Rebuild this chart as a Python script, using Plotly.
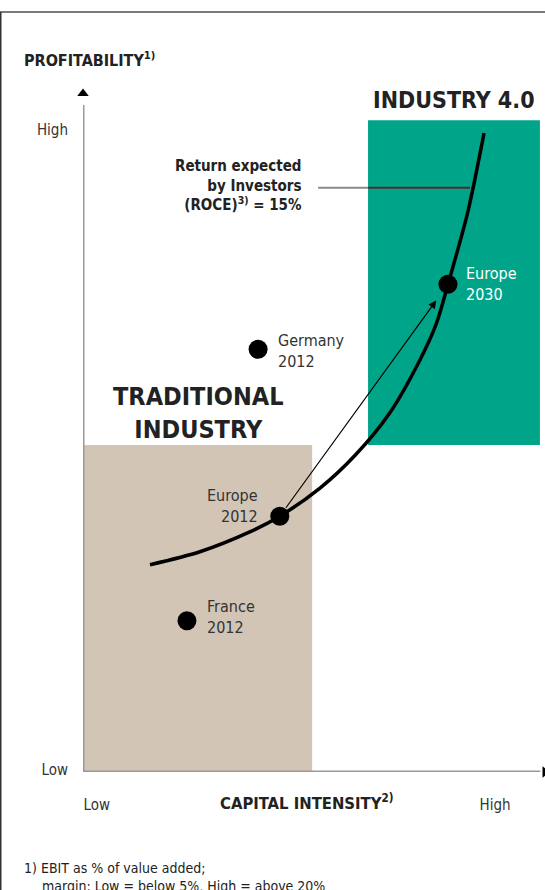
import plotly.graph_objects as go

# ---- data (schematic units 0-100 on both axes) ----
curve_x = [14.5, 25.3, 36.1, 42.6, 51.3, 58.9, 66.5, 72.9, 76.4, 79.0, 83.3, 86.8]
curve_y = [30.3, 32.2, 35.1, 37.4, 41.5, 46.3, 52.6, 60.2, 65.4, 71.3, 81.9, 93.4]

point_names = ["Germany<br>2012", "France<br>2012", "Europe<br>2012", "Europe<br>2030"]
point_x = [37.9, 22.5, 42.6, 79.0]
point_y = [61.8, 22.1, 37.4, 71.3]

# zones: [x0, x1, y0, y1]
traditional_zone = [0, 49.6, 0, 47.8]
industry40_zone = [61.7, 98.9, 47.8, 95.3]

roce_line_x = [50.9, 83.8]
roce_line_y = [85.4, 85.4]

y_tick_vals = [0.4, 93.9]
y_tick_labels = ["Low", "High"]
x_tick_vals = [3.0, 89.2]
x_tick_labels = ["Low", "High"]

# ---- styling ----
GREEN = "#00A488"
BEIGE = "#D2C5B5"
COND = "Liberation Sans Narrow, DejaVu Sans Condensed, Arial Narrow, sans-serif"
TXT = "#222222"

W, H = 545, 890
ML, MR, MT, MB = 83, 0, 88, 118
PW, PH = W - ML - MR, H - MT - MB


def px(xp):
    return (xp - ML) / PW


def py(yp):
    return (H - MB - yp) / PH


fig = go.Figure()

# curve
fig.add_trace(go.Scatter(x=curve_x, y=curve_y, mode="lines",
                         line=dict(color="black", width=3.5, shape="spline", smoothing=0.8),
                         hoverinfo="skip", showlegend=False))

# ROCE leader line (gray on white, darker over the green zone)
fig.add_trace(go.Scatter(x=roce_line_x, y=roce_line_y, mode="lines",
                         line=dict(color="#8a8a8a", width=2), hoverinfo="skip", showlegend=False))
fig.add_trace(go.Scatter(x=[industry40_zone[0], roce_line_x[1]], y=roce_line_y, mode="lines",
                         line=dict(color="#2a3a36", width=2), hoverinfo="skip", showlegend=False))

# points
fig.add_trace(go.Scatter(x=point_x, y=point_y, mode="markers",
                         marker=dict(color="black", size=19), hoverinfo="skip",
                         showlegend=False, cliponaxis=False))

# axis arrowheads
fig.add_trace(go.Scatter(x=[0], y=[99.2], mode="markers",
                         marker=dict(symbol="triangle-up", color="black", size=10),
                         showlegend=False, hoverinfo="skip", cliponaxis=False))
fig.add_trace(go.Scatter(x=[100], y=[0], mode="markers",
                         marker=dict(symbol="triangle-right", color="black", size=10),
                         showlegend=False, hoverinfo="skip", cliponaxis=False))

shapes = [
    dict(type="rect", xref="x", yref="y", x0=traditional_zone[0], x1=traditional_zone[1],
         y0=traditional_zone[2], y1=traditional_zone[3], fillcolor=BEIGE, line=dict(width=0),
         layer="below"),
    dict(type="rect", xref="x", yref="y", x0=industry40_zone[0], x1=industry40_zone[1],
         y0=industry40_zone[2], y1=industry40_zone[3], fillcolor=GREEN, line=dict(width=0),
         layer="below"),
    # axes lines
    dict(type="line", xref="x", yref="y", x0=0, x1=0, y0=0, y1=97.5,
         line=dict(color="#999999", width=3)),
    dict(type="line", xref="x", yref="y", x0=0, x1=99, y0=0, y1=0,
         line=dict(color="#999999", width=3)),
    # frame
    dict(type="line", xref="paper", yref="paper", x0=px(0), x1=px(W), y0=py(12), y1=py(12),
         line=dict(color="#7a7a7a", width=2)),
    dict(type="line", xref="paper", yref="paper", x0=px(0.5), x1=px(0.5), y0=py(12), y1=py(H),
         line=dict(color="#333333", width=2)),
]

annotations = []

# point labels
label_specs = [
    # (index, xanchor, xshift, yshift, color)
    (0, "left", 18, -2, "#333333"),
    (1, "left", 18, 4, "#333333"),
    (2, "right", -20, 10, "#333333"),
    (3, "left", 16, 0, "white"),
]
for i, xa, xs, ys, col in label_specs:
    annotations.append(dict(x=point_x[i], y=point_y[i], xref="x", yref="y", text=point_names[i],
                            showarrow=False, xanchor=xa, yanchor="middle", xshift=xs, yshift=ys,
                            align="left" if xa == "left" else "right",
                            font=dict(family=COND, size=16, color=col)))

# arrow Europe 2012 -> Europe 2030
ax0 = point_x[2] + 0.03 * (point_x[3] - point_x[2])
ay0 = point_y[2] + 0.03 * (point_y[3] - point_y[2])
tx = point_x[2] + 0.93 * (point_x[3] - point_x[2])
ty = point_y[2] + 0.93 * (point_y[3] - point_y[2])
annotations.append(dict(x=tx, y=ty, ax=ax0, ay=ay0, xref="x", yref="y", axref="x", ayref="y",
                        showarrow=True, arrowhead=2, arrowsize=1.3, arrowwidth=1.2,
                        arrowcolor="black", text=""))

# big titles
annotations.append(dict(x=px(454), y=py(100), xref="paper", yref="paper", text="<b>INDUSTRY 4.0</b>",
                        showarrow=False, xanchor="center", yanchor="middle",
                        font=dict(family=COND, size=23, color=TXT)))
annotations.append(dict(x=px(198), y=py(413), xref="paper", yref="paper",
                        text="<b>TRADITIONAL<br>INDUSTRY</b>", showarrow=False,
                        xanchor="center", yanchor="middle", align="center",
                        font=dict(family=COND, size=25, color=TXT)))
annotations.append(dict(x=px(304), y=py(186), xref="paper", yref="paper",
                        text="<b>Return expected<br>by Investors<br>(ROCE)<sup>3)</sup> = 15%</b>",
                        showarrow=False, xanchor="right", yanchor="middle", align="right",
                        font=dict(family=COND, size=15, color=TXT)))

# axis titles
annotations.append(dict(x=px(22), y=py(60), xref="paper", yref="paper",
                        text="<b>PROFITABILITY<sup>1)</sup></b>", showarrow=False,
                        xanchor="left", yanchor="middle", font=dict(family=COND, size=16, color=TXT)))
annotations.append(dict(x=px(306), y=py(802), xref="paper", yref="paper",
                        text="<b>CAPITAL INTENSITY<sup>2)</sup></b>", showarrow=False,
                        xanchor="center", yanchor="middle", font=dict(family=COND, size=16.5, color=TXT)))

# footnote
annotations.append(dict(x=px(22), y=py(868), xref="paper", yref="paper",
                        text="1) EBIT as % of value added;", showarrow=False,
                        xanchor="left", yanchor="middle", font=dict(family=COND, size=14, color=TXT)))
annotations.append(dict(x=px(40), y=py(886), xref="paper", yref="paper",
                        text="margin: Low = below 5%, High = above 20%", showarrow=False,
                        xanchor="left", yanchor="middle", font=dict(family=COND, size=14, color=TXT)))

fig.update_layout(
    width=W, height=H,
    margin=dict(l=ML, r=MR, t=MT, b=MB, pad=0),
    paper_bgcolor="white", plot_bgcolor="white",
    shapes=shapes, annotations=annotations,
    showlegend=False,
    xaxis=dict(range=[0, 100], showgrid=False, zeroline=False, showline=False,
               tickvals=x_tick_vals, ticktext=x_tick_labels, ticks="",
               ticklabelstandoff=22, tickfont=dict(family=COND, size=15, color="#333333"),
               fixedrange=True),
    yaxis=dict(range=[0, 100], showgrid=False, zeroline=False, showline=False,
               tickvals=y_tick_vals, ticktext=y_tick_labels, ticks="",
               ticklabelstandoff=14, tickfont=dict(family=COND, size=15, color="#333333"),
               fixedrange=True),
)

fig.write_html("out.html")
